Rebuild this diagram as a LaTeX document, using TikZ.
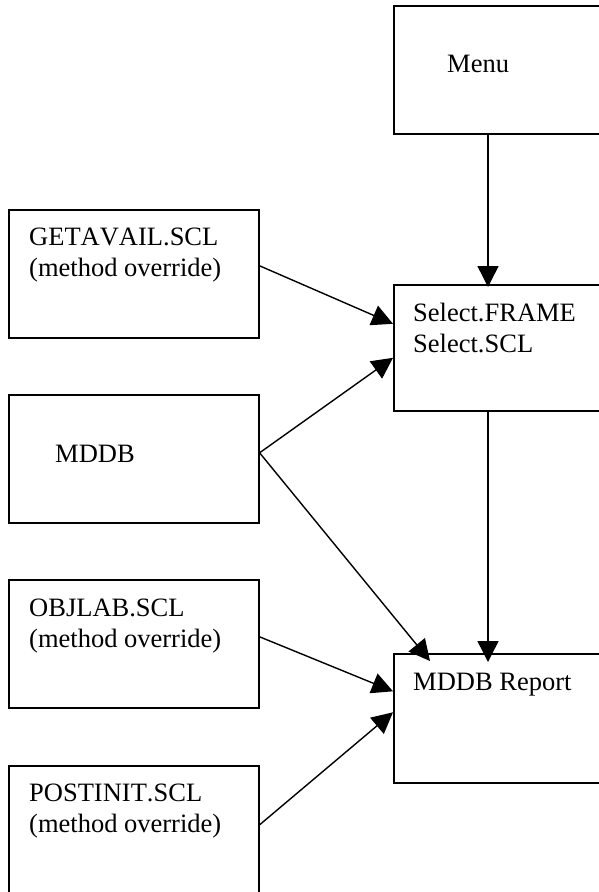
\documentclass[tikz,border=0pt]{standalone}
\usepackage{fontspec}
\setmainfont{Liberation Serif}[Kerning=Off]
\usetikzlibrary{arrows.meta}

\begin{document}
\begin{tikzpicture}[
    x=1pt, y=-1pt,
    box/.style={draw=black, line width=1.6pt, inner sep=0pt, anchor=north west},
    lbox/.style={box, minimum width=250pt, minimum height=128pt},
    rbox/.style={box, minimum width=230pt},
    txt/.style={font=\fontsize{26.5}{31}\selectfont, align=left, inner sep=0pt, anchor=north west},
    flow/.style={line width=1.4pt, -{Triangle[length=21pt, width=21pt]}},
  ]
  \useasboundingbox (0,0) rectangle (599,892);

  % boxes on the right, cut by the page edge
  \node[rbox, minimum height=128pt] (menu)   at (393,5)   {};
  \node[rbox, minimum height=126pt] (select) at (393,284) {};
  \node[rbox, minimum height=129pt] (report) at (393,653) {};

  % boxes on the left
  \node[lbox] (getavail) at (8,209) {};
  \node[lbox] (mddb)     at (8,394) {};
  \node[lbox] (objlab)   at (8,579) {};
  \node[lbox, minimum height=140pt] (postinit) at (8,765) {};

  % texts inside the boxes
  \node[txt] (menutxt)     at ([shift={(54pt,-50pt)}]menu.north west) {Menu};
  \node[txt] (selecttxt)   at ([shift={(20pt,-19pt)}]select.north west) {Select.FRAME\\ Select.SCL};
  \node[txt] (reporttxt)   at ([shift={(20pt,-20pt)}]report.north west) {MDDB Report};
  \node[txt] (getavailtxt) at ([shift={(21pt,-19pt)}]getavail.north west) {GETAVAIL.SCL\\ (method override)};
  \node[txt] (mddbtxt)     at ([shift={(47pt,-51pt)}]mddb.north west) {MDDB};
  \node[txt] (objlabtxt)   at ([shift={(21pt,-20pt)}]objlab.north west) {OBJLAB.SCL\\ (method override)};
  \node[txt] (postinittxt) at ([shift={(21pt,-19pt)}]postinit.north west) {POSTINIT.SCL\\ (method override)};

  % vertical flow
  \draw[flow] ([xshift=95pt]menu.south west) -- ([shift={(95pt,-3pt)}]select.north west);
  \draw[flow] ([xshift=95pt]select.south west) -- ([shift={(95pt,-9pt)}]report.north west);

  % inputs to Select
  \draw[flow] ([yshift=8pt]getavail.east) -- ([yshift=24pt]select.west);
  \draw[flow] ([yshift=6pt]mddb.east) -- ([yshift=-10pt]select.west);

  % inputs to MDDB Report
  \draw[flow] ([yshift=6pt]mddb.east) -- ([shift={(37pt,-8pt)}]report.north west);
  \draw[flow] ([yshift=7pt]objlab.east) -- ([yshift=27pt]report.west);
  \draw[flow] ([yshift=11pt]postinit.east) -- ([yshift=6pt]report.west);
\end{tikzpicture}
\end{document}
